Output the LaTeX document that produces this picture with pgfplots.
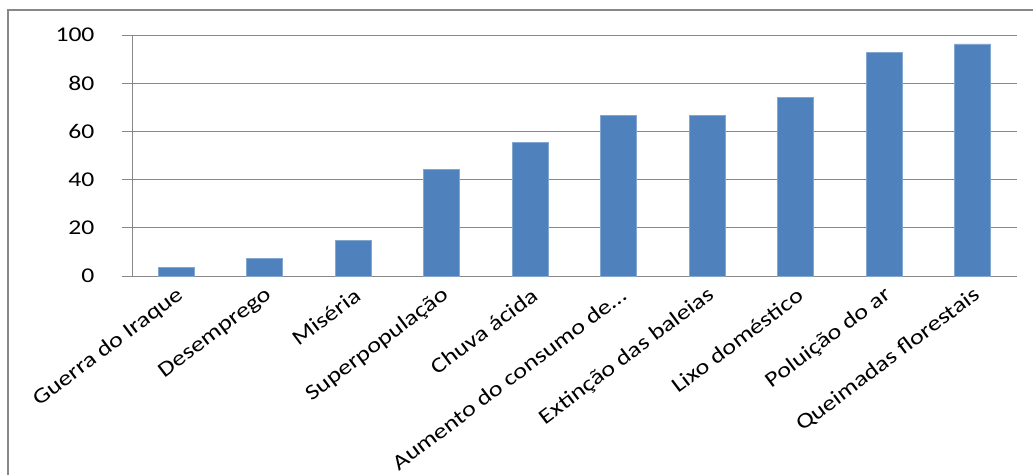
\documentclass[border=0pt]{standalone}
\usepackage{fontspec}
\setmainfont{Carlito}[FakeStretch=1.22]
\usepackage{pgfplots}
\pgfplotsset{compat=1.18}
\definecolor{barblue}{HTML}{4F81BD}
\definecolor{axgray}{HTML}{888888}
\begin{document}
\begin{tikzpicture}[x=1pt,y=1pt]
\useasboundingbox (0,0) rectangle (1033,475);
\draw[axgray, line width=2pt] (8,0) -- (8,464.5) -- (1034,464.5);
\begin{axis}[
  at={(132pt,199pt)}, anchor=south west,
  scale only axis, width=885pt, height=241pt,
  xmin=-0.5, xmax=9.5, ymin=0, ymax=100,
  ytick={0,20,...,100},
  xtick={0,...,9},
  xticklabels={Guerra do Iraque, Desemprego, Miséria, Superpopulação, Chuva ácida, Aumento do consumo de\dots, Extinção das baleias, Lixo doméstico, Poluição do ar, Queimadas florestais},
  x tick label style={rotate=37, anchor=east, font=\fontsize{21.5}{23}\selectfont, xshift=3pt, yshift=-8pt},
  y tick label style={font=\fontsize{21}{22}\selectfont, xshift=-24pt},
  /pgf/number format/assume math mode=true,
  major x tick style={draw=none},
  extra x ticks={-0.5,0.5,...,9.5},
  extra x tick labels={},
  extra x tick style={major tick length=7pt, tick style={axgray, line width=1pt}, tick align=outside},
  tick align=outside,
  major tick length=10pt,
  ytick style={axgray, line width=1pt},
  ymajorgrids, grid style={axgray, line width=1pt},
  axis x line*=bottom, axis y line*=left,
  axis line style={axgray, line width=1pt, -},
  ybar, bar width=36pt,
  clip=false,
]
\addplot[fill=barblue, draw=barblue!70!white, line width=0.8pt] coordinates {
 (0,3.7) (1,7.4) (2,14.8) (3,44.4) (4,55.6) (5,66.7) (6,66.7) (7,74.1) (8,92.6) (9,96.3)};
\end{axis}
\end{tikzpicture}
\end{document}
